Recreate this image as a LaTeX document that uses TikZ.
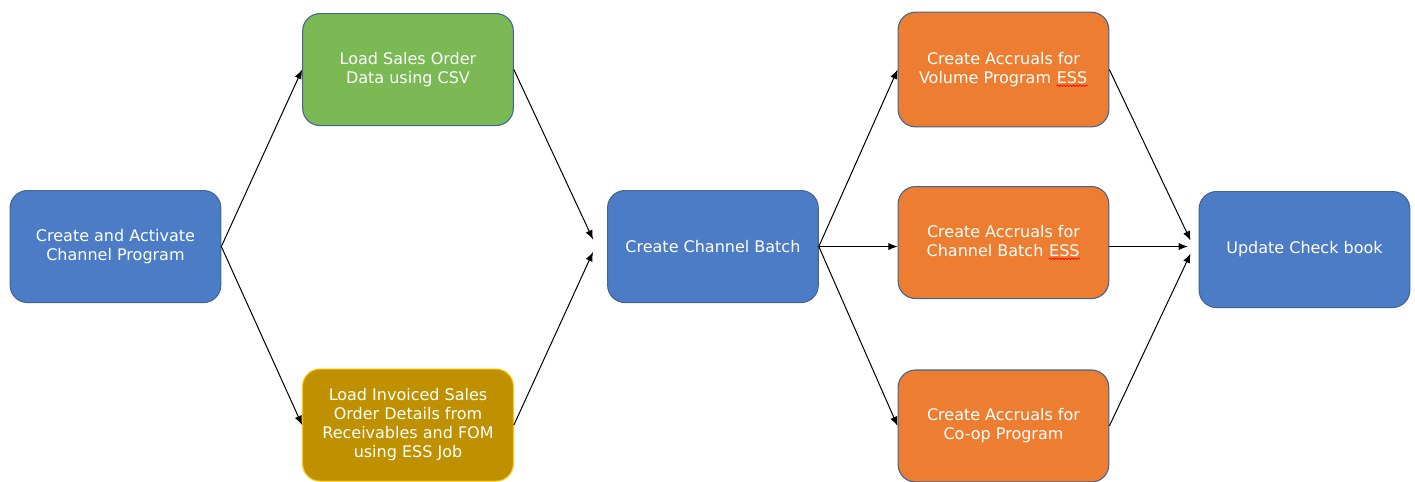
\documentclass[tikz,border=0pt]{standalone}
\usepackage{fontspec}
\setmainfont{DejaVu Sans}
\usepackage{tikz}
\usetikzlibrary{arrows.meta,positioning,decorations.pathmorphing}

\definecolor{stepblue}{RGB}{77,124,198}
\definecolor{stepgreen}{RGB}{122,185,84}
\definecolor{stepgold}{RGB}{191,144,0}
\definecolor{steporange}{RGB}{237,125,49}
\definecolor{edgeblue}{RGB}{65,100,150}
\definecolor{edgegold}{RGB}{255,192,0}

\newcommand\spellwave[1]{\tikz[baseline=(w.base), sharp corners, line width=0.5pt]{%
  \node[rectangle, inner sep=0pt, minimum width=0pt, minimum height=0pt, draw=none, fill=none] (w) {#1};
  \draw[red, decorate, decoration={snake, amplitude=0.6pt, segment length=2.4pt}]
    ([yshift=-1.8pt]w.base west) -- ([yshift=-1.8pt]w.base east);}}

\tikzset{
  stepbox/.style={rectangle, rounded corners=13pt, draw=edgeblue, line width=0.8pt,
    minimum width=158pt, minimum height=84pt, align=center, text=white,
    font=\fontsize{12}{14.25}\selectfont},
  flow/.style={-{Latex[length=7pt,width=5.5pt]}, line width=0.75pt}
}

\begin{document}
\begin{tikzpicture}[node distance=2cm,on grid]
  \useasboundingbox (0,0) rectangle (1061.25pt,-361.5pt);
  \node[stepbox, fill=stepblue] (create) at (86.6pt,-184.9pt) {Create and Activate\\Channel Program};
  \node[stepbox, fill=stepgreen] [above right=132.75pt and 219.4pt of create] (loadcsv) {Load Sales Order\\Data using CSV};
  \node[stepbox, fill=stepgold, draw=edgegold] [below right=133.9pt and 219.4pt of create] (loadess) {Load Invoiced Sales\\Order Details from\\Receivables and FOM\\using ESS Job};
  \node[stepbox, fill=stepblue] [right=448.1pt of create] (batch) {Create Channel Batch};
  \node[stepbox, fill=steporange, minimum height=86pt] [above right=132.75pt and 217.9pt of batch] (volume) {Create Accruals for\\Volume Program \spellwave{ESS}};
  \node[stepbox, fill=steporange] [above right=3pt and 217.9pt of batch] (chbatch) {Create Accruals for\\Channel Batch \spellwave{ESS}};
  \node[stepbox, fill=steporange] [below right=134.6pt and 217.9pt of batch] (coop) {Create Accruals for\\Co-op Program};
  \node[stepbox, fill=stepblue, minimum height=87pt] [below right=5.25pt and 225.75pt of chbatch] (checkbook) {Update Check book};

  \draw[flow] (create.east) -- (loadcsv.west);
  \draw[flow] (create.east) -- (loadess.west);
  \draw[flow] (loadcsv.east) -- ([xshift=-10.5pt,yshift=5.25pt]batch.west);
  \draw[flow] (loadess.east) -- ([xshift=-10.5pt,yshift=-4pt]batch.west);
  \draw[flow] (batch.east) -- (volume.west);
  \draw[flow] (batch.east) -- (batch.east -| chbatch.west);
  \draw[flow] (batch.east) -- (coop.west);
  \draw[flow] (volume.east) -- ([xshift=-6pt,yshift=6.75pt]checkbook.west);
  \draw[flow] (chbatch.east |- batch.east) -- ([xshift=-8pt]checkbook.west |- batch.east);
  \draw[flow] (coop.east) -- ([xshift=-6pt,yshift=-3pt]checkbook.west);
\end{tikzpicture}
\end{document}
